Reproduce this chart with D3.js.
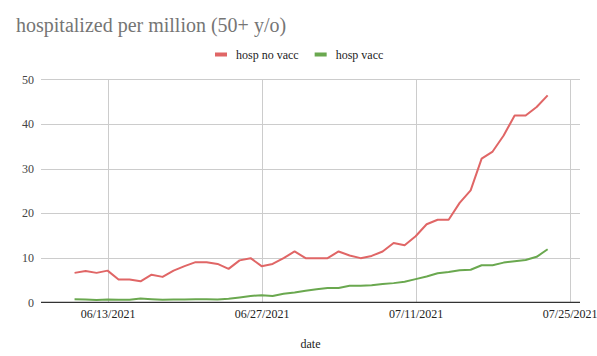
<!DOCTYPE html>
<html>
<head>
<meta charset="utf-8">
<script src="https://cdn.jsdelivr.net/npm/d3@7"></script>
<style>
  body { margin: 0; background: #fff; }
  svg { display: block; font-family: "Liberation Serif", "Times New Roman", serif; }
</style>
</head>
<body>
<svg id="chart" width="597" height="356"></svg>
<script>
// ---- data ----
const startDate = "2021-06-10";
const hospNoVacc = [6.6, 7.0, 6.6, 7.1, 5.1, 5.1, 4.7, 6.2, 5.7, 7.1,
  8.1, 9.0, 9.0, 8.6, 7.5, 9.4, 9.9, 8.1, 8.6, 9.9,
  11.4, 9.9, 9.9, 9.9, 11.4, 10.5, 9.9, 10.4, 11.4, 13.3,
  12.8, 14.8, 17.5, 18.5, 18.5, 22.3, 25.1, 32.2, 33.8, 37.4,
  41.9, 41.9, 43.8, 46.4];
const hospVacc = [0.7, 0.65, 0.5, 0.6, 0.55, 0.55, 0.85, 0.7, 0.55, 0.6,
  0.6, 0.7, 0.7, 0.65, 0.8, 1.1, 1.4, 1.6, 1.4, 1.9,
  2.2, 2.6, 2.9, 3.2, 3.2, 3.7, 3.7, 3.8, 4.1, 4.3,
  4.6, 5.2, 5.8, 6.5, 6.8, 7.2, 7.3, 8.3, 8.3, 8.9,
  9.2, 9.5, 10.2, 11.9];
const xTickLabels = ["06/13/2021", "06/27/2021", "07/11/2021", "07/25/2021"];
const yTicks = [0, 10, 20, 30, 40, 50];
const seriesNames = ["hosp no vacc", "hosp vacc"];
const seriesColors = ["#e06666", "#6aa84f"];
const titleText = "hospitalized per million (50+ y/o)";
const xTitle = "date";

// ---- build ----
(function () {
const FONT = "Liberation Serif, Times New Roman, serif";
const parse = d3.timeParse("%Y-%m-%d");
const parseTick = d3.timeParse("%m/%d/%Y");
const start = parse(startDate);
const dates = hospNoVacc.map((_, i) => d3.timeDay.offset(start, i));
const series = [hospNoVacc, hospVacc];

const svg = d3.select("#chart");
const pLeft = 41, pRight = 580, pTop = 79.3, pBottom = 302.3;
const DAY = 864e5;
const firstTick = parseTick(xTickLabels[0]);
const lastTick = parseTick(xTickLabels[xTickLabels.length - 1]);
const x = d3.scaleTime()
  .domain([new Date(+firstTick - 6.05 * DAY), new Date(+lastTick + 0.94 * DAY)])
  .range([pLeft, pRight]);
const y = d3.scaleLinear().domain([0, 50]).range([pBottom, pTop]);

// grid
const grid = svg.append("g");
grid.selectAll("line.h").data(yTicks.filter(d => d > 0)).join("line")
  .attr("x1", pLeft).attr("x2", pRight)
  .attr("y1", d => Math.round(y(d)) + 0.5).attr("y2", d => Math.round(y(d)) + 0.5)
  .attr("stroke", "#cccccc").attr("stroke-width", 1);
grid.selectAll("line.v").data(xTickLabels.map(parseTick)).join("line")
  .attr("x1", d => Math.round(x(d)) + 0.5).attr("x2", d => Math.round(x(d)) + 0.5)
  .attr("y1", pTop).attr("y2", pBottom)
  .attr("stroke", "#cccccc").attr("stroke-width", 1);

// y axis labels
const yAxis = d3.axisLeft(y).tickValues(yTicks).tickSize(0).tickPadding(0);
const gy = svg.append("g").attr("transform", `translate(${pLeft - 7},0)`)
  .call(yAxis).attr("font-family", FONT);
gy.select(".domain").remove();
gy.selectAll("text").attr("font-size", 12).attr("fill", "#444");

// x axis
const xAxis = d3.axisBottom(x).tickValues(xTickLabels.map(parseTick))
  .tickFormat(d3.timeFormat("%m/%d/%Y")).tickSize(0).tickPadding(7);
const gx = svg.append("g").attr("transform", `translate(0,${pBottom})`)
  .call(xAxis).attr("font-family", FONT);
gx.select(".domain").remove();
gx.selectAll("text").attr("font-size", 12).attr("fill", "#222");

// lines
const line = d3.line().x((d, i) => x(dates[i])).y(d => y(d));
series.forEach((s, k) => {
  svg.append("path").datum(s).attr("d", line)
    .attr("fill", "none").attr("stroke", seriesColors[k])
    .attr("stroke-width", 2).attr("stroke-linejoin", "round");
});

// baseline
svg.append("line").attr("x1", pLeft).attr("x2", pRight)
  .attr("y1", pBottom).attr("y2", pBottom)
  .attr("stroke", "#333").attr("stroke-width", 1.2);

// title
svg.append("text").attr("x", 16).attr("y", 32).text(titleText)
  .attr("font-family", FONT).attr("font-size", 20).attr("fill", "#757575");

// x title
svg.append("text").attr("x", (pLeft + pRight) / 2).attr("y", 348)
  .attr("text-anchor", "middle").attr("font-family", FONT)
  .attr("font-size", 12).attr("fill", "#222").text(xTitle);

// legend
const legend = svg.append("g").attr("font-family", FONT);
let lx = 215;
seriesNames.forEach((name, k) => {
  legend.append("rect").attr("x", lx).attr("y", 52.5).attr("width", 12).attr("height", 4)
    .attr("fill", seriesColors[k]);
  const t = legend.append("text").attr("x", lx + 21).attr("y", 59)
    .attr("font-size", 12).attr("fill", "#222").text(name);
  lx += 21 + t.node().getComputedTextLength() + 16;
});
})();
</script>
</body>
</html>
